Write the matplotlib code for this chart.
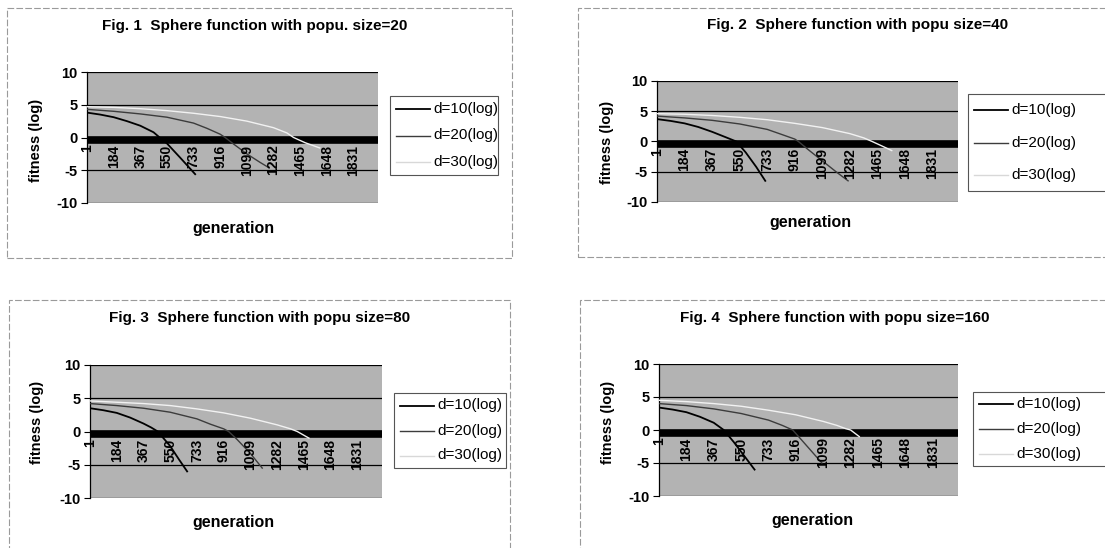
import matplotlib
matplotlib.use("Agg")
import matplotlib.pyplot as plt
from matplotlib.patches import Rectangle
from matplotlib.lines import Line2D

plt.rcParams['font.family'] = ['Liberation Sans', 'DejaVu Sans']

W, H = 1105, 548

# x tick labels (generation), every 183 generations
gen_ticks = [1, 184, 367, 550, 733, 916, 1099, 1282, 1465, 1648, 1831]
y_ticks = [-10, -5, 0, 5, 10]
series_names = ["d=10(log)", "d=20(log)", "d=30(log)"]

titles = [
    "Fig. 1  Sphere function with popu. size=20",
    "Fig. 2  Sphere function with popu size=40",
    "Fig. 3  Sphere function with popu size=80",
    "Fig. 4  Sphere function with popu size=160",
]

# Fig. 1 (popu. size = 20)
f1_d10_g = [1, 92, 184, 275, 367, 458, 500, 550, 642, 744]
f1_d10_v = [3.8, 3.5, 3.1, 2.5, 1.8, 0.8, 0.0, -0.9, -3.1, -5.6]
f1_d20_g = [1, 184, 367, 550, 733, 825, 916, 950, 1008, 1099, 1190, 1250]
f1_d20_v = [4.3, 4.0, 3.6, 3.1, 2.2, 1.4, 0.5, 0.0, -1.0, -2.5, -3.8, -4.6]
f1_d30_g = [1, 184, 367, 550, 733, 916, 1099, 1282, 1374, 1420, 1500, 1600]
f1_d30_v = [4.7, 4.6, 4.4, 4.1, 3.7, 3.2, 2.5, 1.5, 0.7, 0.0, -0.8, -1.6]

# Fig. 2 (popu size = 40)
f2_d10_g = [1, 92, 184, 275, 367, 458, 528, 590, 660, 720]
f2_d10_v = [3.7, 3.4, 3.0, 2.4, 1.6, 0.7, 0.0, -1.8, -4.2, -6.5]
f2_d20_g = [1, 184, 367, 550, 733, 825, 916, 940, 1008, 1099, 1190, 1270]
f2_d20_v = [4.2, 3.9, 3.5, 2.9, 2.0, 1.2, 0.4, 0.0, -1.4, -3.2, -5.0, -6.5]
f2_d30_g = [1, 184, 367, 550, 733, 916, 1099, 1282, 1374, 1430, 1500, 1560]
f2_d30_v = [4.6, 4.5, 4.3, 4.0, 3.6, 3.0, 2.3, 1.3, 0.6, 0.0, -0.8, -1.5]

# Fig. 3 (popu size = 80)
f3_d10_g = [1, 92, 184, 275, 367, 420, 465, 550, 610, 666]
f3_d10_v = [3.5, 3.2, 2.8, 2.1, 1.2, 0.6, 0.0, -2.2, -4.2, -6.0]
f3_d20_g = [1, 184, 367, 550, 733, 825, 916, 950, 1008, 1099, 1180]
f3_d20_v = [4.2, 3.9, 3.5, 2.9, 1.9, 1.1, 0.4, 0.0, -1.2, -3.3, -5.5]
f3_d30_g = [1, 184, 367, 550, 733, 916, 1099, 1282, 1374, 1420, 1500]
f3_d30_v = [4.6, 4.4, 4.2, 3.9, 3.4, 2.8, 2.0, 1.0, 0.4, 0.0, -1.0]

# Fig. 4 (popu size = 160)
f4_d10_g = [1, 92, 184, 275, 367, 434, 500, 570, 640]
f4_d10_v = [3.4, 3.1, 2.7, 2.0, 1.1, 0.0, -1.8, -3.9, -6.0]
f4_d20_g = [1, 184, 367, 550, 733, 825, 895, 950, 1020, 1090]
f4_d20_v = [4.0, 3.7, 3.2, 2.5, 1.5, 0.7, 0.0, -1.4, -3.2, -5.0]
f4_d30_g = [1, 184, 367, 550, 733, 916, 1099, 1190, 1250, 1282, 1340]
f4_d30_v = [4.5, 4.3, 4.0, 3.6, 3.0, 2.3, 1.3, 0.7, 0.2, 0.0, -1.0]

panels_data = [
    [(f1_d10_g, f1_d10_v), (f1_d20_g, f1_d20_v), (f1_d30_g, f1_d30_v)],
    [(f2_d10_g, f2_d10_v), (f2_d20_g, f2_d20_v), (f2_d30_g, f2_d30_v)],
    [(f3_d10_g, f3_d10_v), (f3_d20_g, f3_d20_v), (f3_d30_g, f3_d30_v)],
    [(f4_d10_g, f4_d10_v), (f4_d20_g, f4_d20_v), (f4_d30_g, f4_d30_v)],
]

# layout in pixels: outer box, plot area, legend box, title/ylabel/xlabel centres
layouts = [
    dict(box=(7, 8, 512, 258), plot=(87, 72, 378, 203), leg=(390, 96, 498, 175),
         title=(255, 26), ylab=(36, 140), xlab=(233, 228)),
    dict(box=(578, 8, 1112, 257), plot=(657, 81, 958, 202), leg=(968, 94, 1112, 191),
         title=(858, 25), ylab=(607, 142), xlab=(810, 222)),
    dict(box=(9, 300, 510, 552), plot=(90, 365, 382, 498), leg=(394, 393, 506, 468),
         title=(260, 318), ylab=(37, 422), xlab=(233, 522)),
    dict(box=(580, 300, 1112, 552), plot=(659, 364, 958, 496), leg=(973, 392, 1112, 466),
         title=(835, 318), ylab=(608, 422), xlab=(812, 520)),
]

line_styles = [
    dict(color='black', lw=1.3),
    dict(color='#3c3c3c', lw=1.0),
    dict(color='#f2f2f2', lw=1.0),
]

fig = plt.figure(figsize=(W / 100, H / 100), dpi=100)
fig.patch.set_facecolor('white')


def fx(x):
    return x / W


def fy(y):
    return 1 - y / H


for title, data, lay in zip(titles, panels_data, layouts):
    # outer chart frame
    bx0, by0, bx1, by1 = lay['box']
    fig.patches.append(Rectangle((fx(bx0), fy(by1)), fx(bx1 - bx0), (by1 - by0) / H,
                                 transform=fig.transFigure, fill=False,
                                 edgecolor='#9a9a9a', lw=0.8, linestyle=(0, (6, 2))))

    x0, y0, x1, y1 = lay['plot']
    ax = fig.add_axes([fx(x0), fy(y1), fx(x1 - x0), (y1 - y0) / H])
    ax.set_facecolor('#b3b3b3')
    ax.set_xlim(1, 2000)
    ax.set_ylim(-10, 10)

    for yv in [-10, -5, 5, 10]:
        ax.axhline(yv, color='black', lw=0.9, zorder=1)
    # heavy category axis (tick marks merged into a band)
    ax.axhline(-0.45, color='black', lw=5.5, zorder=2)

    for (g, v), st in zip(data, line_styles):
        ax.plot(g, v, zorder=3, **st)

    for gt in gen_ticks:
        ax.text(gt, -1.1, str(gt), rotation=90, ha='center', va='top',
                fontsize=10, fontweight='bold', zorder=4)

    for s in ['top', 'right', 'bottom']:
        ax.spines[s].set_visible(False)
    ax.spines['left'].set_color('black')
    ax.spines['left'].set_linewidth(0.9)
    ax.set_xticks([])
    ax.set_yticks(y_ticks)
    ax.set_yticklabels([str(t) for t in y_ticks], fontsize=10.5, fontweight='bold')
    ax.tick_params(axis='y', length=4, width=0.8, pad=3)

    fig.text(fx(lay['title'][0]), fy(lay['title'][1]), title, ha='center', va='center',
             fontsize=11, fontweight='bold')
    fig.text(fx(lay['ylab'][0]), fy(lay['ylab'][1]), "fitness (log)", ha='center',
             va='center', rotation=90, fontsize=10.5, fontweight='bold')
    fig.text(fx(lay['xlab'][0]), fy(lay['xlab'][1]), "generation", ha='center',
             va='center', fontsize=11.5, fontweight='bold')

    # legend box
    lx0, ly0, lx1, ly1 = lay['leg']
    fig.patches.append(Rectangle((fx(lx0), fy(ly1)), fx(lx1 - lx0), (ly1 - ly0) / H,
                                 transform=fig.transFigure, facecolor='white',
                                 edgecolor='#555555', lw=0.8))
    row_h = (ly1 - ly0) / 3.0
    for i, (name, st) in enumerate(zip(series_names, line_styles)):
        yy = ly0 + row_h * (i + 0.5)
        lc = st['color'] if i < 2 else '#d8d8d8'
        fig.lines.append(Line2D([fx(lx0 + 6), fx(lx0 + 40)], [fy(yy), fy(yy)],
                                transform=fig.transFigure, color=lc, lw=st['lw']))
        fig.text(fx(lx0 + 43), fy(yy), name, ha='left', va='center', fontsize=11)

fig.savefig("out.png", dpi=100, facecolor='white')
